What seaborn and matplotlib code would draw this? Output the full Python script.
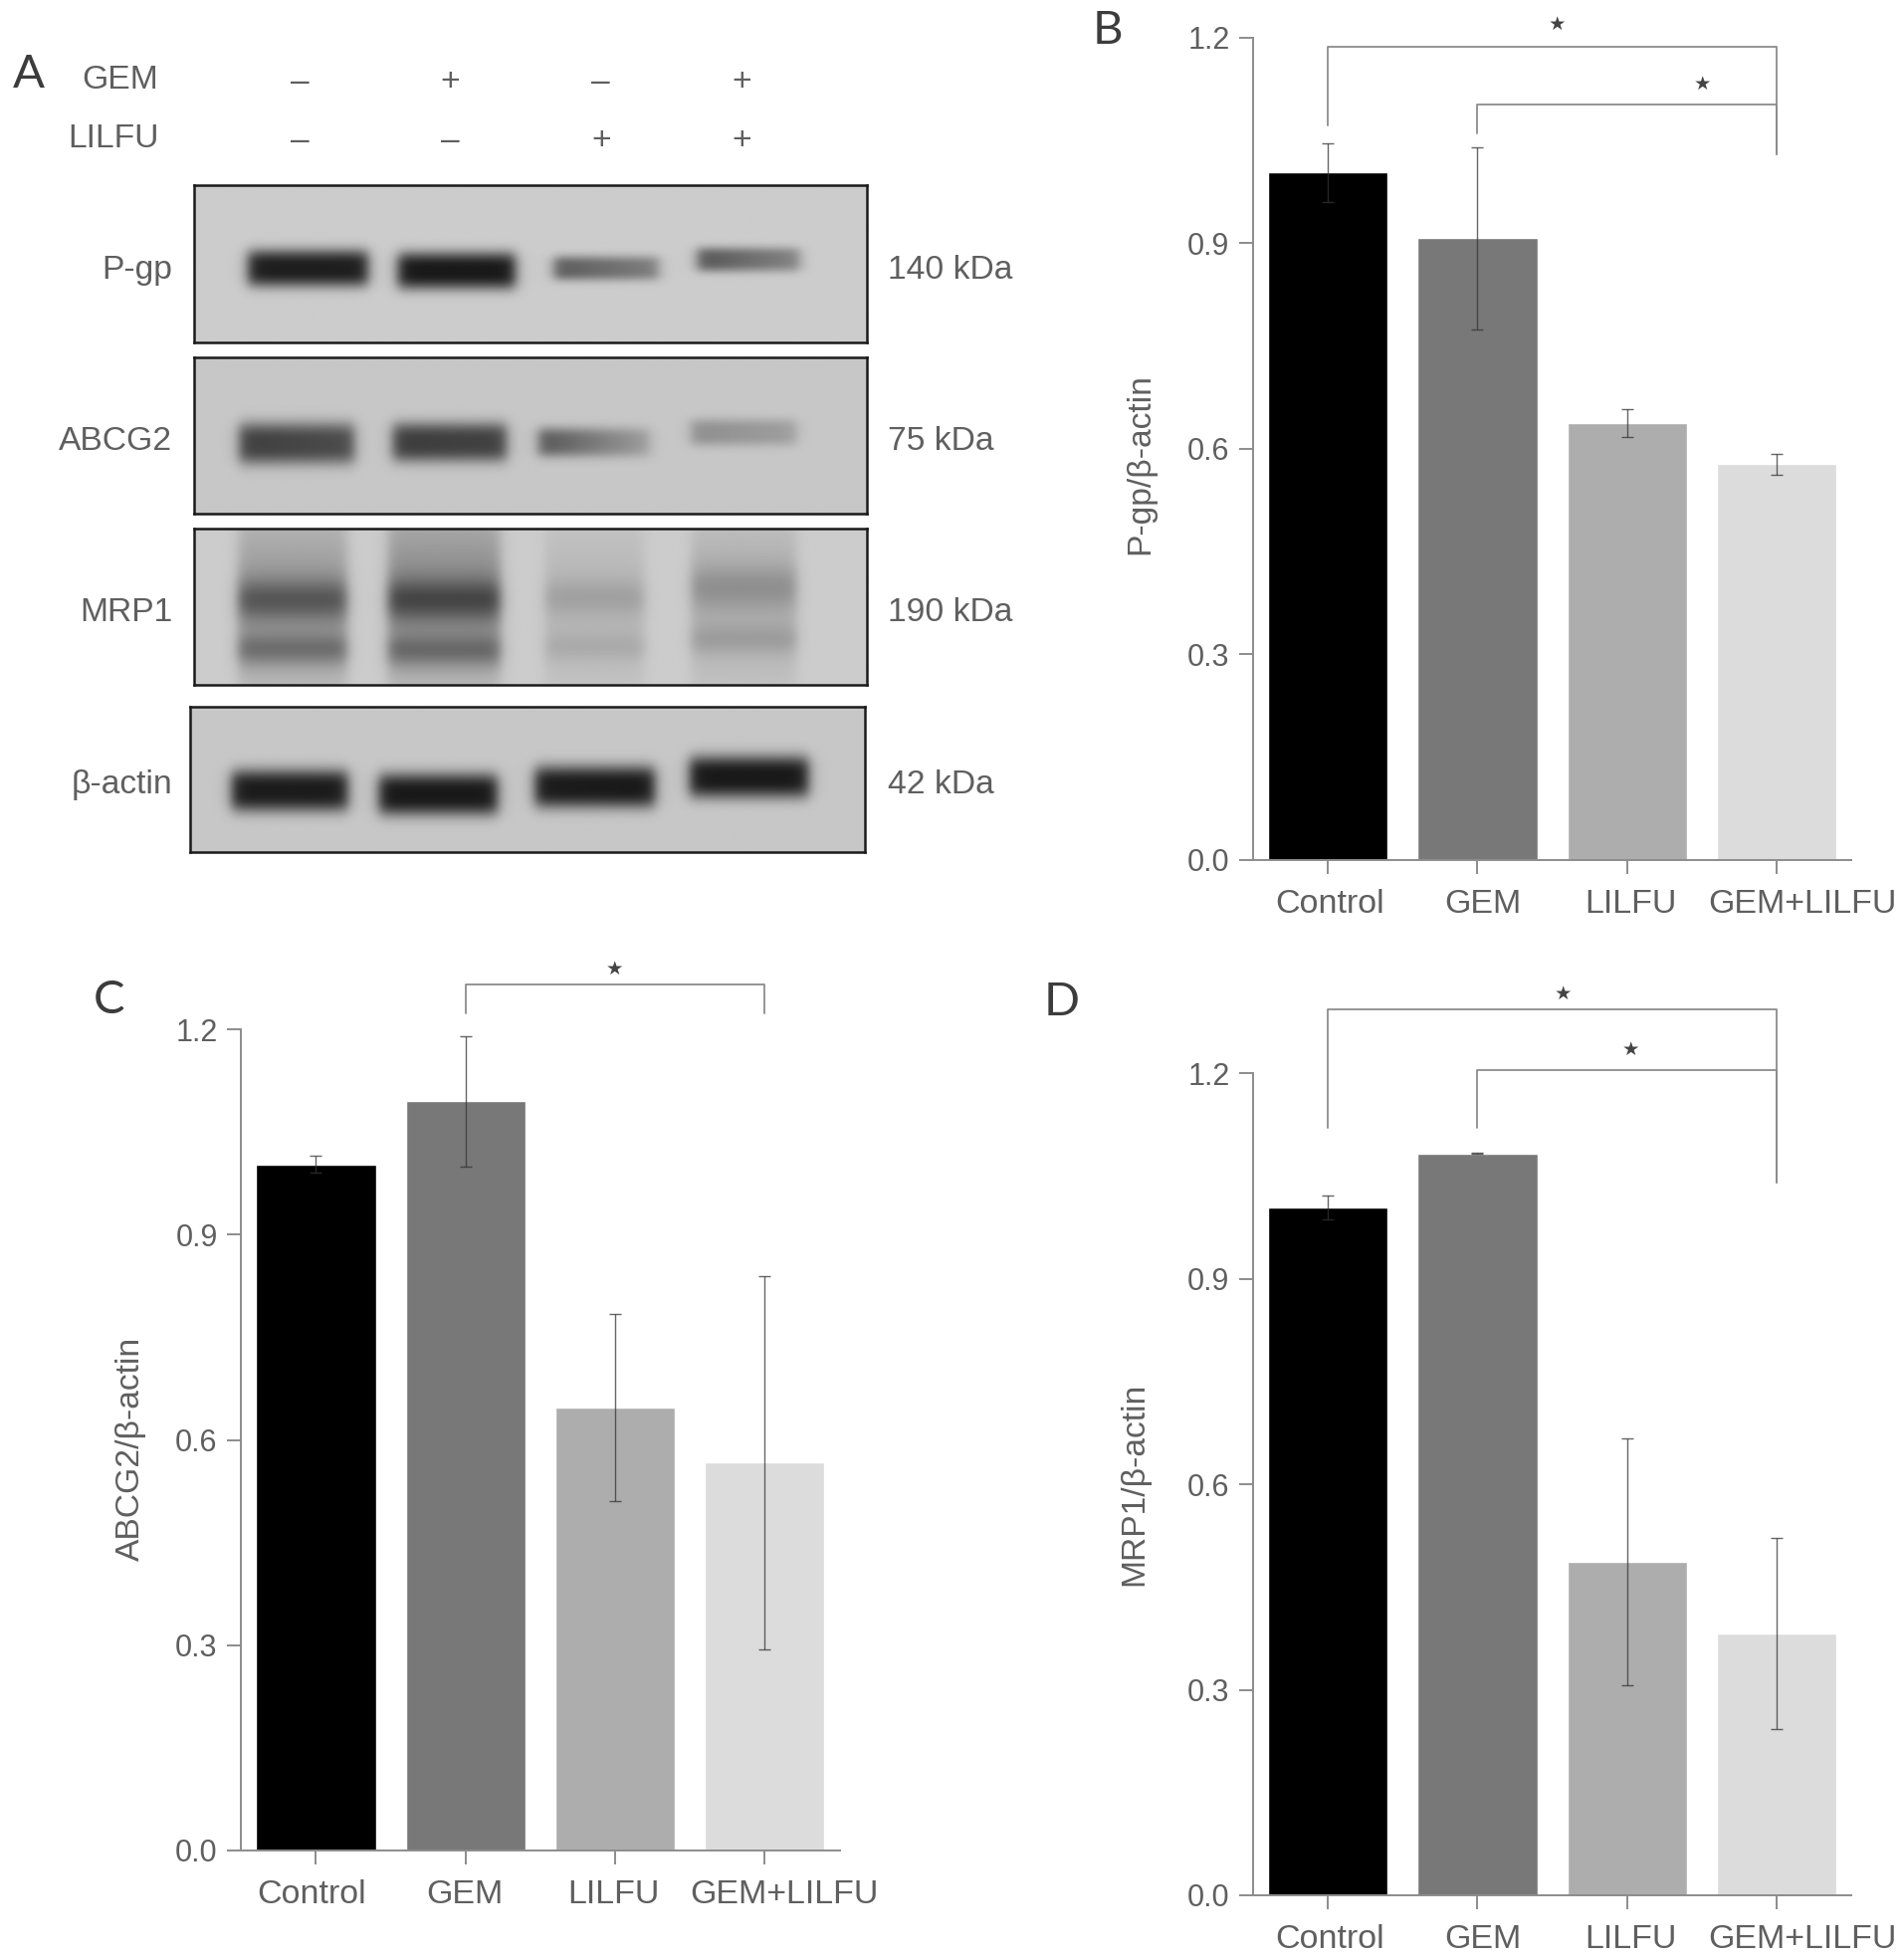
import numpy as np
import pandas as pd
import matplotlib
matplotlib.use('Agg')
import matplotlib.pyplot as plt
from matplotlib.transforms import ScaledTranslation
import seaborn as sns

groups = ['Control', 'GEM', 'LILFU', 'GEM+LILFU']
bar_colors = ['#000000', '#787878', '#adadad', '#dcdcdc']

pgp_values = [1.003, 0.907, 0.637, 0.577]
pgp_errors = [0.043, 0.133, 0.02, 0.015]
abcg2_values = [1.003, 1.095, 0.647, 0.567]
abcg2_errors = [0.012, 0.095, 0.137, 0.273]
mrp1_values = [1.004, 1.083, 0.487, 0.382]
mrp1_errors = [0.018, 0.001, 0.18, 0.14]
y_ticks = [0.0, 0.3, 0.6, 0.9, 1.2]

# brackets: from group, to group, height, left drop, right drop
pgp_brackets = [(0, 3, 1.187, 1.072, 1.03), (1, 3, 1.102, 1.06, 1.03)]
abcg2_brackets = [(1, 3, 1.266, 1.224, 1.224)]
mrp1_brackets = [(0, 3, 1.293, 1.12, 1.04), (1, 3, 1.205, 1.12, 1.04)]

gem_signs = ['–', '+', '–', '+']
lilfu_signs = ['–', '–', '+', '+']
sign_x = [240, 360, 481, 594]

blot_names = ['P-gp', 'ABCG2', 'MRP1', 'β-actin']
blot_sizes = ['140 kDa', '75 kDa', '190 kDa', '42 kDa']
blot_boxes = [(155, 694, 148, 274), (155, 694, 286, 411), (155, 694, 423, 548), (152, 692, 566, 682)]
blot_text_y = [216, 353, 490, 628]
blot_bg = [0.80, 0.78, 0.80, 0.78]
blot_power = [3, 3, 2, 3]

# bands: x start, x end, y, half height, darkness at left, darkness at right
pgp_bands = [(198, 294, 215, 15, 0.12, 0.12), (318, 412, 217, 15, 0.10, 0.10),
             (443, 527, 215, 10, 0.36, 0.50), (558, 640, 208, 10, 0.34, 0.52)]
abcg2_bands = [(191, 283, 355, 17, 0.25, 0.30), (314, 405, 354, 16, 0.24, 0.26),
               (431, 520, 354, 12, 0.34, 0.62), (553, 637, 346, 11, 0.56, 0.62)]
mrp1_bands = [(190, 277, 480, 72, 0.60, 0.60), (310, 400, 475, 72, 0.55, 0.55),
              (436, 515, 485, 70, 0.71, 0.71), (553, 637, 478, 70, 0.68, 0.68),
              (190, 277, 480, 17, 0.54, 0.54), (310, 400, 480, 17, 0.52, 0.52),
              (436, 515, 478, 14, 0.72, 0.72), (553, 637, 470, 17, 0.68, 0.68),
              (190, 277, 520, 13, 0.58, 0.58), (310, 400, 521, 13, 0.58, 0.58),
              (436, 515, 518, 11, 0.74, 0.74), (553, 637, 512, 12, 0.71, 0.71)]
actin_bands = [(185, 278, 633, 17, 0.11, 0.11), (303, 398, 636, 17, 0.10, 0.10),
               (428, 524, 630, 17, 0.11, 0.10), (552, 647, 622, 17, 0.10, 0.10)]
blot_bands = [pgp_bands, abcg2_bands, mrp1_bands, actin_bands]

sns.set_theme(style='white')
plt.rcParams['font.family'] = ['Liberation Sans', 'DejaVu Sans']
text_color = '#5f5f5f'
axis_color = '#8c8c8c'

W, H = 1524, 1568
fig = plt.figure(figsize=(19.13, 19.68), dpi=100)


def px_axes(x0, x1, y0, y1):
    return fig.add_axes([x0 / W, 1 - y1 / H, (x1 - x0) / W, (y1 - y0) / H])


def px_text(x, y, s, **kw):
    kw.setdefault('color', text_color)
    kw.setdefault('va', 'center')
    kw.setdefault('fontsize', 24.2)
    fig.text(x / W, 1 - y / H, s, **kw)


def draw_blot(box, bands, bg, power):
    x0, x1, y0, y1 = box
    ax = px_axes(x0, x1, y0, y1)
    xs = np.linspace(x0, x1, 700)
    ys = np.linspace(y0, y1, 170)
    gx, gy = np.meshgrid(xs, ys)
    img = np.full(gx.shape, bg)
    for bx0, bx1, by, hh, d0, d1 in bands:
        sx = 0.5 * (np.tanh((gx - bx0) / 6) - np.tanh((gx - bx1) / 6))
        sy = np.exp(-np.abs((gy - by) / hh) ** power)
        frac = np.clip((gx - bx0) / (bx1 - bx0), 0, 1)
        dark = d0 + (d1 - d0) * frac
        img = img - (bg - dark) * sx * sy
    ax.imshow(np.clip(img, 0.05, 1), cmap='gray', vmin=0, vmax=1, aspect='auto')
    ax.set_xticks([])
    ax.set_yticks([])
    for s in ax.spines.values():
        s.set_visible(True)
        s.set_color('#1a1a1a')
        s.set_linewidth(1.8)


def draw_bars(rect, values, errors, ylabel, brackets, star_pos, label_pos, label_shift):
    ax = px_axes(*rect)
    df = pd.DataFrame({'group': groups, 'value': values})
    sns.barplot(data=df, x='group', y='value', hue='group', palette=bar_colors,
                width=0.8, saturation=1, legend=False, ax=ax)
    ax.errorbar(range(4), values, yerr=errors, fmt='none', ecolor='#333333',
                elinewidth=1, capsize=4, capthick=1, alpha=0.75)
    ax.set_xlim(-0.5, 3.5)
    ax.set_ylim(0, 1.2)
    ax.set_yticks(y_ticks)
    ax.set_yticklabels([f'{t:.1f}' for t in y_ticks])
    ax.set_xlabel('')
    ax.set_ylabel('')
    sns.despine(ax=ax)
    for side in ['left', 'bottom']:
        ax.spines[side].set_color(axis_color)
        ax.spines[side].set_linewidth(1.4)
    ax.tick_params(axis='both', length=10, width=1.4, color=axis_color,
                   labelcolor=text_color, left=True, bottom=True)
    ax.tick_params(axis='x', pad=11, labelsize=24.5)
    ax.tick_params(axis='y', pad=7, labelsize=22)
    for lab, dx in zip(ax.get_xticklabels(), label_shift):
        lab.set_transform(lab.get_transform() + ScaledTranslation(dx / 100, 0, fig.dpi_scale_trans))
    for (a, b, top, drop_a, drop_b), (sx, sy) in zip(brackets, star_pos):
        ax.plot([a, a, b, b], [drop_a, top, top, drop_b], color=axis_color, lw=1.3, clip_on=False)
        px_text(sx, sy, '★', fontsize=14, ha='center', color='#444444')
    px_text(label_pos[0], label_pos[1], ylabel, rotation=90, ha='center')
    return ax


letter = dict(ha='center', fontsize=34, color='#3c3c3c', family='Lato', fontweight='normal')
right_shift = [2, 5, 4, 26]
left_shift = [-4, -1, -2, 20]

# panel A
px_text(23, 60, 'A', **letter)
px_text(127, 64, 'GEM', ha='right')
px_text(127, 111, 'LILFU', ha='right')
for x, g, l in zip(sign_x, gem_signs, lilfu_signs):
    px_text(x, 66, g, ha='center')
    px_text(x, 113, l, ha='center')
for box, bands, bg, power, name, size, ty in zip(blot_boxes, blot_bands, blot_bg, blot_power,
                                                 blot_names, blot_sizes, blot_text_y):
    draw_blot(box, bands, bg, power)
    px_text(138, ty, name, ha='right')
    px_text(711, ty, size, ha='left')

# panels B, C, D
px_text(887, 25, 'B', **letter)
draw_bars((1003, 1482, 30, 688), pgp_values, pgp_errors, 'P-gp/β-actin', pgp_brackets,
          [(1246, 20), (1363, 68)], (913, 371), right_shift)

px_text(87, 801, 'C', **letter)
draw_bars((193, 672, 824, 1481), abcg2_values, abcg2_errors, 'ABCG2/β-actin', abcg2_brackets,
          [(492, 776)], (105, 1160), left_shift)

px_text(850, 802, 'D', **letter)
draw_bars((1003, 1482, 859, 1517), mrp1_values, mrp1_errors, 'MRP1/β-actin', mrp1_brackets,
          [(1251, 796), (1305, 841)], (908, 1188), right_shift)

fig.savefig('out.png', dpi=100)
